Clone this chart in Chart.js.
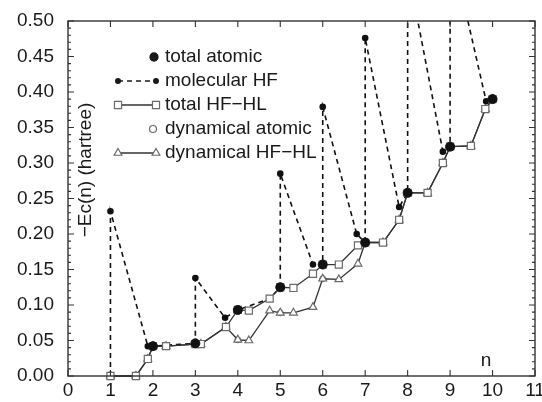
<!DOCTYPE html>
<html>
<head>
<meta charset="utf-8">
<script src="https://cdn.jsdelivr.net/npm/chart.js@4.4.1/dist/chart.umd.min.js"></script>
<style>
  html, body { margin: 0; padding: 0; background: #fff; }
  #wrap { width: 542px; height: 402px; }
</style>
</head>
<body>
<div id="wrap"><canvas id="chart" width="542" height="402"></canvas></div>
<script>
// total atomic (filled dots)
const nAtom = [2, 3, 4, 5, 6, 7, 8, 9, 10];
const totAtom = [0.042, 0.046, 0.093, 0.125, 0.157, 0.188, 0.258, 0.323, 0.390];

// dynamical atomic (open circles)
const nDynAtom = [1, 2, 3, 4, 5, 6, 7, 8, 9, 10];
const dynAtom = [0, 0.042, 0.045, 0.051, 0.089, 0.137, 0.188, 0.258, 0.323, 0.390];

// HF-HL curves (squares / triangles)
const xHL = [1, 1.6, 1.88, 2, 2.31, 3, 3.13, 3.72, 4, 4.26, 4.75, 5, 5.31, 5.77, 6, 6.38, 6.83, 7, 7.42, 7.8, 8, 8.47, 8.83, 9, 9.49, 9.83, 10];
const totalHL = [0, 0, 0.024, 0.042, 0.042, 0.045, 0.045, 0.069, 0.093, 0.092, 0.109, 0.125, 0.124, 0.144, 0.157, 0.157, 0.184, 0.188, 0.188, 0.220, 0.258, 0.258, 0.300, 0.323, 0.324, 0.376, 0.390];
const dynHL = [0, 0, 0.024, 0.042, 0.042, 0.045, 0.045, 0.069, 0.051, 0.050, 0.092, 0.089, 0.089, 0.097, 0.137, 0.136, 0.158, 0.188, 0.188, 0.220, 0.258, 0.258, 0.300, 0.323, 0.324, 0.376, 0.390];

// molecular HF (dashed)
const xHF = [1, 1, 1.88, 2, 3, 3, 3.7, 4, 4.75, 5, 5, 5.77, 6, 6, 6.8, 7, 7, 7.8, 8, 8, 8.83, 9, 9, 9.85, 10];
const molHF = [0, 0.232, 0.042, 0.042, 0.046, 0.138, 0.082, 0.093, 0.109, 0.125, 0.285, 0.157, 0.157, 0.379, 0.200, 0.188, 0.476, 0.238, 0.258, 0.575, 0.316, 0.323, 0.61, 0.387, 0.390];

const xTicks = [0, 1, 2, 3, 4, 5, 6, 7, 8, 9, 10, 11];
const yTicks = [0, 0.05, 0.10, 0.15, 0.20, 0.25, 0.30, 0.35, 0.40, 0.45, 0.50];

const FONT = '"Liberation Sans", Arial, sans-serif';
const INK = '#1a1a1a';
const GRAY = '#6a6a6a';

const pts = (xs, ys) => xs.map((x, i) => ({ x, y: ys[i] }));
const clipBox = { left: 10, right: 10, top: 0, bottom: 10 };

// frame with inward ticks
const framePlugin = {
  id: 'frame',
  afterDatasetsDraw(chart) {
    const { ctx, chartArea: a, scales } = chart;
    ctx.save();
    ctx.strokeStyle = '#333';
    ctx.lineWidth = 1.4;
    ctx.strokeRect(a.left, a.top, a.right - a.left, a.bottom - a.top);
    ctx.lineWidth = 1.1;
    ctx.beginPath();
    xTicks.forEach(v => {
      const px = scales.x.getPixelForValue(v);
      ctx.moveTo(px, a.bottom); ctx.lineTo(px, a.bottom - 6);
      ctx.moveTo(px, a.top); ctx.lineTo(px, a.top + 6);
    });
    for (let k = 0; k <= 50; k++) {
      const py = scales.y.getPixelForValue(k / 100);
      const len = k % 5 === 0 ? 6 : 3;
      ctx.moveTo(a.left, py); ctx.lineTo(a.left + len, py);
      ctx.moveTo(a.right, py); ctx.lineTo(a.right - len, py);
    }
    ctx.stroke();
    ctx.restore();
  }
};

// legend, axis titles inside the plot
const labelPlugin = {
  id: 'labels',
  afterDraw(chart) {
    const ctx = chart.ctx;
    const dp = Chart.helpers.drawPoint;
    ctx.save();
    ctx.fillStyle = INK;
    ctx.font = '19px ' + FONT;
    ctx.textBaseline = 'middle';

    const rows = [
      { text: 'total atomic', y: 57 },
      { text: 'molecular HF', y: 81 },
      { text: 'total HF\u2212HL', y: 105 },
      { text: 'dynamical atomic', y: 129 },
      { text: 'dynamical HF\u2212HL', y: 153 }
    ];
    rows.forEach(r => ctx.fillText(r.text, 165, r.y));

    // symbols
    ctx.lineWidth = 1.3;
    ctx.strokeStyle = INK;
    ctx.fillStyle = INK;
    dp(ctx, { pointStyle: 'circle', radius: 4, borderWidth: 1 }, 154, rows[0].y);

    ctx.setLineDash([5, 4]);
    ctx.lineWidth = 1.6;
    ctx.beginPath(); ctx.moveTo(118, rows[1].y); ctx.lineTo(156, rows[1].y); ctx.stroke();
    ctx.setLineDash([]);
    dp(ctx, { pointStyle: 'circle', radius: 2.2, borderWidth: 1 }, 118, rows[1].y);
    dp(ctx, { pointStyle: 'circle', radius: 2.2, borderWidth: 1 }, 156, rows[1].y);

    ctx.lineWidth = 1.3;
    ctx.strokeStyle = '#333';
    ctx.beginPath(); ctx.moveTo(118, rows[2].y); ctx.lineTo(156, rows[2].y); ctx.stroke();
    ctx.beginPath(); ctx.moveTo(118, rows[4].y); ctx.lineTo(156, rows[4].y); ctx.stroke();

    ctx.fillStyle = '#fff';
    ctx.strokeStyle = GRAY;
    ctx.lineWidth = 1.2;
    dp(ctx, { pointStyle: 'rect', radius: 5, borderWidth: 1.2 }, 118, rows[2].y);
    dp(ctx, { pointStyle: 'rect', radius: 5, borderWidth: 1.2 }, 156, rows[2].y);
    dp(ctx, { pointStyle: 'circle', radius: 3.5, borderWidth: 1.2 }, 153, rows[3].y);
    dp(ctx, { pointStyle: 'triangle', radius: 4.5, borderWidth: 1.2 }, 118, rows[4].y);
    dp(ctx, { pointStyle: 'triangle', radius: 4.5, borderWidth: 1.2 }, 156, rows[4].y);

    // y title, rotated, inside the frame
    ctx.fillStyle = INK;
    ctx.translate(86, 170);
    ctx.rotate(-Math.PI / 2);
    ctx.textAlign = 'center';
    ctx.fillText('\u2212Ec(n) (hartree)', 0, 0);
    ctx.setTransform(1, 0, 0, 1, 0, 0);

    // x title
    ctx.textAlign = 'center';
    ctx.fillText('n', 486, 361);
    ctx.restore();
  }
};

new Chart(document.getElementById('chart'), {
  type: 'line',
  data: {
    datasets: [
      {
        label: 'total atomic',
        data: pts(nAtom, totAtom),
        showLine: false,
        pointStyle: 'circle',
        pointRadius: 4.5,
        pointBackgroundColor: '#111',
        pointBorderColor: '#111',
        clip: clipBox
      },
      {
        label: 'total HF-HL',
        data: pts(xHL, totalHL),
        borderColor: '#333',
        borderWidth: 1.3,
        pointStyle: 'rect',
        pointRadius: 5,
        pointBackgroundColor: '#fff',
        pointBorderColor: GRAY,
        pointBorderWidth: 1.2,
        clip: clipBox
      },
      {
        label: 'molecular HF',
        data: pts(xHF, molHF),
        borderColor: '#111',
        borderWidth: 1.6,
        borderDash: [5, 4],
        pointStyle: 'circle',
        pointRadius: 2.5,
        pointBackgroundColor: '#111',
        pointBorderColor: '#111',
        clip: clipBox
      },
      {
        label: 'dynamical HF-HL',
        data: pts(xHL, dynHL),
        borderColor: '#333',
        borderWidth: 1.3,
        pointStyle: 'triangle',
        pointRadius: 4.5,
        pointBackgroundColor: '#fff',
        pointBorderColor: GRAY,
        pointBorderWidth: 1.2,
        clip: clipBox
      },
      {
        label: 'dynamical atomic',
        data: pts(nDynAtom, dynAtom),
        showLine: false,
        pointStyle: 'circle',
        pointRadius: 3,
        pointBackgroundColor: '#fff',
        pointBorderColor: GRAY,
        clip: clipBox
      }
    ]
  },
  options: {
    responsive: false,
    animation: false,
    devicePixelRatio: 1,
    layout: { padding: { top: 21, right: 7, left: 0, bottom: 0 } },
    elements: { line: { tension: 0 } },
    plugins: {
      legend: { display: false },
      tooltip: { enabled: false }
    },
    scales: {
      x: {
        type: 'linear',
        min: 0,
        max: 11,
        afterBuildTicks: s => { s.ticks = xTicks.map(v => ({ value: v })); },
        ticks: {
          color: INK,
          font: { family: FONT, size: 19 },
          padding: 3,
          maxRotation: 0,
          autoSkip: false
        },
        grid: { display: false, drawTicks: false },
        border: { display: false },
        afterFit: s => { s.height = 26; s.paddingLeft = 0; s.paddingRight = 0; }
      },
      y: {
        type: 'linear',
        min: 0,
        max: 0.5,
        afterBuildTicks: s => { s.ticks = yTicks.map(v => ({ value: v })); },
        ticks: {
          color: INK,
          font: { family: FONT, size: 19 },
          padding: 14,
          autoSkip: false,
          callback: v => v.toFixed(2)
        },
        grid: { display: false, drawTicks: false },
        border: { display: false },
        afterFit: s => { s.width = 68; s.paddingTop = 0; s.paddingBottom = 0; }
      }
    }
  },
  plugins: [framePlugin, labelPlugin]
});
</script>
</body>
</html>
